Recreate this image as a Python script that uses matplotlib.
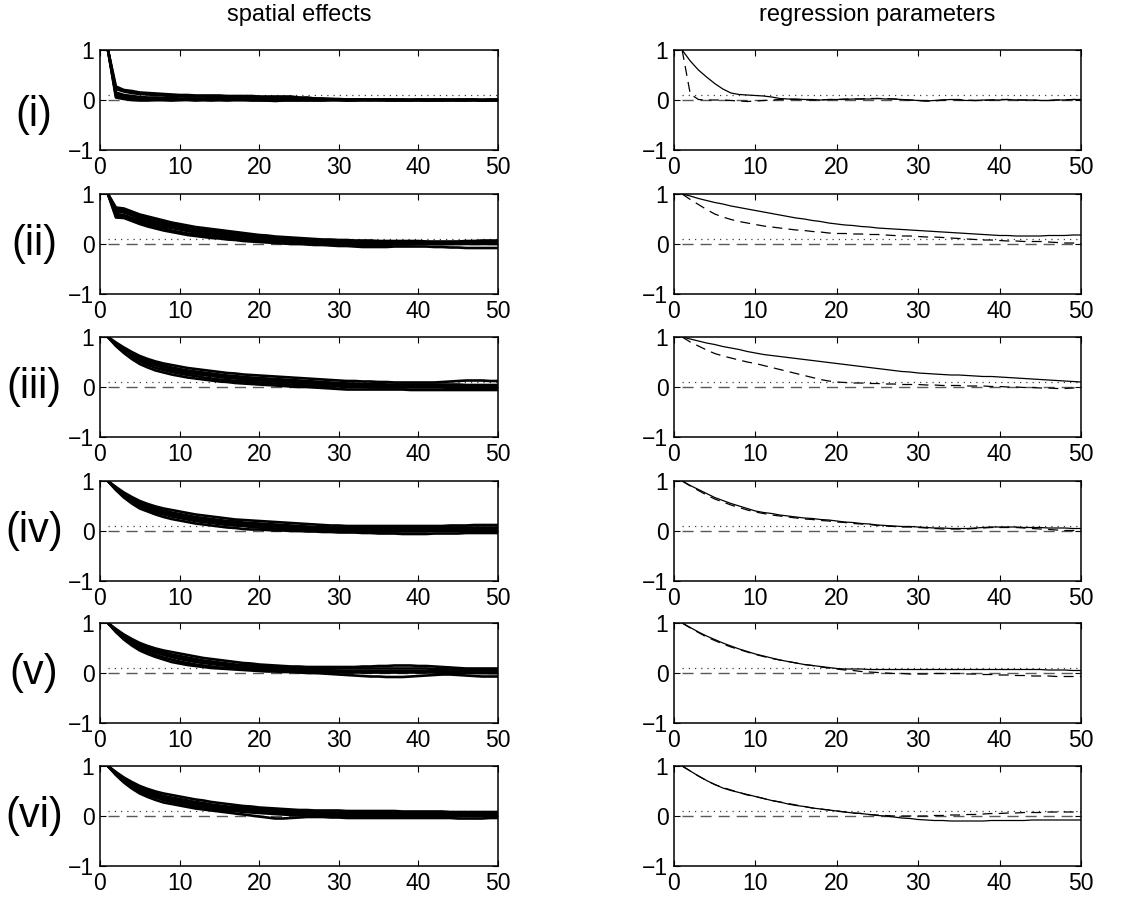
import matplotlib
matplotlib.use("Agg")
import matplotlib.pyplot as plt
import numpy as np

plt.rcParams['font.family'] = ['Liberation Sans', 'DejaVu Sans']

lags = list(range(1, 51))
row_labels = ["(i)", "(ii)", "(iii)", "(iv)", "(v)", "(vi)"]
col_titles = ["spatial effects", "regression parameters"]
xticks = [0, 10, 20, 30, 40, 50]
yticks = [-1, 0, 1]
ref_dotted = 0.1
ref_zero = 0.0

# ---------------- spatial effects (left column), several series per panel
spat_i = [
 [1.00,.27,.20,.18,.15,.14,.13,.12,.11,.10, .10,.09,.09,.09,.09,.08,.08,.08,.08,.07, .07,.07,.07,.07,.05,.04,.03,.03,.02,.02, .01,.01,.01,.00,.00,.01,.00,.00,.00,.00, -.01,.00,.00,.00,.00,.00,.00,.00,.00,.00],
 [1.00,.22,.17,.14,.12,.11,.10,.09,.08,.08, .07,.07,.07,.06,.06,.06,.06,.05,.05,.05, .04,.04,.04,.05,.04,.05,.03,.02,.02,.01, .01,.00,.00,.00,.01,.00,.00,.01,.00,.00, .00,.01,.00,.00,.01,.00,.00,.00,.01,.00],
 [1.00,.15,.10,.08,.06,.05,.05,.04,.04,.03, .03,.03,.03,.02,.02,.02,.02,.02,.01,.01, .01,.00,.01,.00,.00,-.01,.00,.00,.00,.00, -.01,.00,.00,.00,.00,.00,.00,.00,.00,.00, .00,.00,-.01,.00,.00,.00,.00,-.01,.00,.00],
 [1.00,.08,.04,.02,.01,.01,.00,.00,.00,.00, .01,.00,.00,-.01,.00,.00,.00,.00,.00,.00, -.01,.00,.00,.00,-.01,.00,.00,.00,.00,.00, .01,.00,.00,.00,.00,.00,.00,-.01,.00,.00, .00,.00,.00,.00,.00,.00,.00,.00,.00,.00],
 [1.00,.05,.02,.00,-.01,-.01,.00,.00,-.01,.00, .00,-.01,.00,.00,.00,-.01,.00,.00,-.01,-.01, -.01,-.02,-.01,-.01,.00,.00,-.01,-.01,.00,.00, -.01,-.01,.00,.00,.00,-.01,-.01,.00,-.01,.00, -.01,-.01,.00,.00,-.01,-.01,.00,-.01,-.01,-.01],
 [1.00,.12,.07,.05,.03,.03,.02,.02,.02,.02, .02,.01,.01,.01,.01,.01,.01,.01,.01,.01, .00,.00,.00,.01,.02,.03,.02,.01,.01,.00, .00,.01,.01,.01,.00,.01,.01,.00,.00,.01, .01,.00,.01,.00,.00,.01,.01,.00,.00,.01],
]
spat_ii = [
 [1.00,.73,.71,.65,.59,.55,.51,.47,.43,.40, .37,.34,.32,.30,.28,.26,.24,.22,.20,.18, .17,.15,.14,.13,.12,.11,.10,.09,.09,.08, .08,.07,.07,.07,.06,.06,.06,.06,.06,.06, .05,.05,.05,.05,.05,.06,.06,.07,.07,.07],
 [1.00,.69,.67,.61,.55,.51,.47,.43,.40,.37, .34,.31,.29,.27,.25,.23,.21,.19,.17,.15, .14,.12,.11,.10,.09,.08,.07,.06,.06,.05, .05,.04,.04,.04,.04,.03,.03,.04,.04,.04, .04,.03,.03,.03,.04,.04,.05,.05,.05,.05],
 [1.00,.65,.63,.57,.51,.47,.43,.39,.36,.33, .30,.27,.25,.23,.21,.19,.17,.15,.13,.12, .10,.09,.08,.07,.06,.05,.05,.04,.03,.03, .02,.02,.02,.02,.02,.02,.02,.02,.03,.03, .02,.02,.02,.02,.02,.03,.03,.03,.03,.03],
 [1.00,.60,.58,.52,.47,.43,.39,.35,.32,.29, .26,.23,.21,.19,.17,.15,.13,.11,.10,.08, .07,.06,.05,.04,.03,.03,.02,.01,.01,.00, .00,.00,.00,.00,.00,.01,.01,.01,.01,.01, .01,.00,.00,.00,.01,.01,.01,.01,.01,.01],
 [1.00,.53,.52,.46,.40,.35,.31,.27,.24,.21, .18,.16,.14,.12,.11,.09,.08,.06,.05,.04, .03,.02,.01,.00,.00,-.01,-.02,-.02,-.03,-.04, -.04,-.05,-.06,-.06,-.06,-.06,-.05,-.05,-.05,-.05, -.05,-.06,-.06,-.07,-.07,-.08,-.08,-.08,-.08,-.08],
 [1.00,.56,.55,.49,.43,.39,.35,.31,.27,.24, .21,.19,.17,.15,.13,.12,.10,.09,.07,.06, .05,.04,.03,.02,.01,.01,.00,.00,-.01,-.02, -.02,-.02,-.03,-.03,-.02,-.02,-.01,-.01,-.01,.00, .00,.00,.00,.00,.00,.00,.00,.00,.00,.00],
]
spat_iii = [
 [1.00,.89,.79,.70,.62,.56,.51,.47,.44,.41, .38,.36,.34,.32,.30,.28,.27,.25,.24,.23, .22,.21,.20,.19,.18,.17,.16,.15,.14,.13, .12,.12,.11,.11,.10,.10,.09,.09,.09,.09, .09,.09,.10,.11,.12,.13,.13,.13,.12,.12],
 [1.00,.87,.76,.67,.59,.52,.47,.43,.39,.36, .33,.31,.29,.27,.25,.23,.22,.20,.19,.18, .17,.16,.15,.14,.13,.12,.11,.10,.09,.08, .07,.07,.06,.06,.06,.05,.05,.05,.05,.05, .05,.05,.05,.05,.05,.04,.04,.04,.04,.04],
 [1.00,.85,.73,.63,.55,.48,.43,.38,.34,.31, .28,.26,.24,.22,.20,.18,.17,.15,.14,.13, .12,.11,.10,.09,.08,.07,.06,.05,.05,.04, .04,.03,.03,.03,.02,.02,.02,.02,.02,.02, .02,.01,.01,.01,.01,.01,.01,.01,.01,.01],
 [1.00,.84,.71,.60,.51,.44,.38,.34,.30,.27, .24,.22,.19,.17,.15,.14,.12,.11,.10,.09, .08,.07,.06,.05,.04,.03,.02,.02,.01,.01, .00,.00,.00,-.01,-.01,-.01,-.01,-.01,-.01,-.01, -.01,-.01,-.01,-.02,-.02,-.02,-.02,-.02,-.02,-.02],
 [1.00,.82,.68,.56,.46,.39,.33,.29,.25,.22, .19,.17,.15,.13,.11,.10,.08,.07,.06,.05, .04,.03,.02,.01,.00,.00,-.01,-.02,-.03,-.04, -.05,-.05,-.05,-.05,-.05,-.05,-.05,-.05,-.06,-.06, -.06,-.06,-.06,-.06,-.06,-.06,-.06,-.06,-.06,-.06],
 [1.00,.86,.74,.65,.57,.50,.45,.40,.36,.33, .30,.28,.26,.24,.22,.21,.19,.18,.16,.15, .14,.13,.12,.11,.10,.09,.08,.08,.07,.06, .06,.05,.05,.04,.04,.04,.03,.03,.03,.03, .03,.03,.03,.03,.02,.02,.02,.02,.02,.02],
]
spat_iv = [
 [1.00,.88,.77,.68,.60,.54,.49,.45,.42,.39, .36,.33,.31,.29,.27,.25,.23,.22,.21,.20, .19,.18,.17,.16,.15,.14,.13,.12,.11,.11, .10,.10,.10,.10,.10,.10,.10,.10,.10,.10, .10,.10,.10,.11,.11,.11,.12,.12,.12,.12],
 [1.00,.86,.74,.64,.56,.50,.45,.41,.37,.34, .31,.28,.26,.24,.22,.20,.19,.17,.16,.15, .14,.13,.12,.11,.10,.09,.08,.08,.07,.07, .06,.06,.06,.06,.06,.06,.06,.06,.06,.06, .06,.06,.07,.07,.07,.07,.07,.07,.07,.07],
 [1.00,.84,.71,.61,.53,.46,.41,.37,.33,.30, .27,.24,.22,.20,.18,.16,.15,.13,.12,.11, .10,.09,.08,.07,.06,.05,.05,.04,.04,.03, .03,.03,.02,.02,.02,.02,.02,.02,.02,.02, .02,.02,.02,.02,.02,.02,.02,.02,.02,.02],
 [1.00,.83,.69,.58,.49,.43,.37,.33,.29,.26, .23,.20,.18,.16,.14,.12,.11,.10,.08,.07, .06,.05,.04,.04,.03,.02,.02,.01,.01,.00, .00,.00,-.01,-.01,-.01,-.01,-.01,-.01,-.01,-.01, -.01,.00,.00,.00,.00,.00,.00,.00,.00,.00],
 [1.00,.82,.67,.55,.45,.39,.33,.28,.24,.21, .18,.15,.13,.11,.09,.07,.06,.04,.03,.03, .02,.01,.01,.00,.00,-.01,-.01,-.02,-.02,-.03, -.03,-.03,-.04,-.04,-.05,-.05,-.05,-.06,-.06,-.06, -.06,-.05,-.05,-.05,-.05,-.04,-.04,-.04,-.04,-.04],
 [1.00,.85,.72,.62,.54,.48,.43,.39,.35,.32, .29,.26,.24,.22,.20,.18,.17,.15,.14,.13, .12,.11,.10,.09,.08,.07,.07,.06,.05,.05, .04,.04,.04,.04,.04,.04,.04,.04,.04,.04, .04,.04,.04,.04,.04,.04,.04,.04,.04,.04],
]
spat_v = [
 [1.00,.88,.77,.68,.60,.54,.49,.45,.42,.39, .36,.33,.30,.28,.26,.24,.22,.20,.19,.17, .16,.15,.14,.13,.13,.12,.12,.12,.12,.12, .12,.12,.13,.13,.14,.14,.15,.15,.15,.14, .14,.13,.12,.11,.10,.09,.09,.09,.09,.09],
 [1.00,.86,.74,.64,.56,.50,.45,.41,.37,.34, .31,.28,.25,.23,.21,.19,.17,.16,.15,.14, .13,.12,.11,.10,.10,.09,.09,.09,.09,.09, .09,.09,.09,.09,.09,.09,.09,.09,.09,.09, .09,.08,.08,.07,.07,.06,.06,.06,.06,.06],
 [1.00,.84,.71,.61,.53,.46,.41,.36,.32,.28, .25,.22,.20,.18,.16,.14,.13,.11,.10,.09, .08,.07,.07,.06,.06,.05,.05,.05,.05,.04, .04,.04,.04,.04,.04,.04,.04,.04,.04,.04, .04,.04,.04,.03,.03,.03,.02,.02,.02,.02],
 [1.00,.83,.69,.58,.49,.42,.36,.31,.27,.23, .20,.17,.15,.13,.11,.10,.09,.08,.07,.06, .05,.04,.04,.03,.03,.02,.02,.02,.01,.01, .01,.01,.01,.01,.01,.01,.01,.01,.01,.01, .01,.01,.00,.00,.00,.00,.00,.00,.00,.00],
 [1.00,.82,.67,.55,.45,.38,.32,.27,.22,.19, .16,.14,.12,.10,.09,.08,.07,.06,.05,.04, .03,.03,.02,.02,.01,.00,.00,-.01,-.02,-.03, -.04,-.05,-.06,-.07,-.07,-.08,-.08,-.08,-.07,-.06, -.05,-.04,-.03,-.03,-.04,-.05,-.06,-.07,-.07,-.07],
 [1.00,.85,.72,.62,.54,.47,.42,.38,.34,.31, .28,.25,.23,.21,.19,.17,.15,.14,.12,.11, .10,.09,.08,.08,.07,.07,.06,.06,.05,.04, .03,.03,.02,.02,.02,.02,.02,.02,.03,.03, .03,.03,.03,.02,.02,.01,.01,.00,.00,.00],
]
spat_vi = [
 [1.00,.88,.77,.68,.60,.54,.49,.45,.42,.39, .36,.33,.31,.28,.26,.24,.22,.20,.19,.17, .16,.15,.14,.13,.12,.12,.11,.11,.11,.11, .10,.10,.10,.10,.10,.10,.10,.09,.09,.09, .09,.09,.09,.08,.08,.08,.08,.08,.08,.08],
 [1.00,.86,.74,.64,.56,.50,.45,.40,.37,.34, .31,.28,.26,.23,.21,.19,.18,.16,.15,.14, .13,.12,.11,.10,.09,.08,.08,.07,.07,.07, .07,.06,.06,.06,.06,.06,.06,.06,.06,.06, .06,.06,.06,.06,.06,.06,.06,.06,.06,.06],
 [1.00,.84,.71,.61,.53,.46,.41,.36,.32,.29, .26,.23,.21,.19,.17,.15,.14,.12,.11,.10, .09,.08,.07,.06,.05,.05,.04,.04,.04,.03, .03,.03,.03,.03,.03,.03,.03,.03,.03,.03, .03,.03,.03,.03,.03,.03,.03,.03,.03,.03],
 [1.00,.83,.69,.58,.49,.42,.37,.32,.28,.25, .22,.19,.17,.15,.13,.11,.10,.08,.07,.06, .05,.04,.03,.02,.02,.01,.01,.00,.00,.00, .00,.00,.00,.00,.00,.00,.00,.00,.00,.00, .00,.00,.00,.00,.00,.00,.00,.00,.00,.00],
 [1.00,.82,.67,.55,.45,.38,.32,.27,.24,.21, .18,.15,.13,.11,.09,.07,.05,.03,.01,-.01, -.03,-.05,-.05,-.04,-.03,-.02,-.02,-.02,-.03,-.03, -.04,-.04,-.04,-.04,-.04,-.04,-.04,-.04,-.04,-.04, -.04,-.04,-.04,-.04,-.05,-.05,-.05,-.05,-.04,-.04],
 [1.00,.85,.72,.62,.54,.47,.42,.38,.34,.31, .28,.25,.22,.20,.18,.16,.15,.13,.12,.11, .10,.09,.08,.07,.06,.06,.05,.05,.05,.05, .05,.05,.05,.04,.04,.04,.04,.04,.04,.04, .04,.04,.04,.04,.04,.04,.04,.04,.04,.04],
]

# ---------------- regression parameters (right column): solid and dashed series
reg_i_solid = [1.00,.78,.60,.46,.33,.22,.14,.11,.10,.09, .08,.06,.03,.02,.02,.01,.01,.00,.01,.01, .01,.02,.02,.02,.03,.02,.02,.01,.00,-.01, -.02,-.01,.00,.01,.00,-.01,-.01,.00,.00,.00, .01,.00,.00,.00,-.01,-.01,.00,.00,.01,.01]
reg_i_dash = [1.00,.12,.01,.00,.00,.00,-.01,-.02,-.03,-.02, -.01,.00,.01,.01,.01,.00,.00,.00,.01,.01, .02,.02,.02,.03,.03,.03,.02,.01,.00,-.01, -.02,-.02,.00,.01,.01,.00,-.01,-.01,.00,.01, .01,.00,.00,.00,-.01,-.01,.00,.00,.01,.01]
reg_ii_solid = [1.00,.96,.91,.87,.83,.80,.76,.73,.70,.67, .64,.61,.58,.55,.52,.50,.47,.45,.42,.40, .38,.37,.35,.34,.32,.31,.30,.29,.28,.27, .26,.25,.24,.23,.22,.21,.20,.19,.18,.17, .17,.16,.16,.16,.16,.17,.17,.17,.18,.18]
reg_ii_dash = [1.00,.89,.79,.69,.60,.54,.49,.45,.42,.39, .36,.34,.32,.30,.28,.27,.25,.24,.22,.21, .21,.20,.20,.19,.19,.18,.17,.16,.16,.15, .14,.14,.13,.12,.11,.10,.09,.08,.08,.07, .06,.06,.05,.05,.05,.04,.03,.02,.02,.01]
reg_iii_solid = [1.00,.96,.92,.88,.85,.81,.78,.75,.71,.68, .65,.63,.61,.59,.57,.55,.53,.51,.49,.47, .45,.43,.41,.39,.37,.35,.33,.31,.30,.28, .27,.26,.25,.24,.24,.23,.22,.21,.21,.20, .19,.18,.17,.16,.15,.14,.13,.12,.11,.10]
reg_iii_dash = [1.00,.90,.82,.74,.67,.62,.58,.54,.50,.47, .43,.39,.35,.31,.27,.23,.19,.15,.12,.10, .09,.08,.08,.07,.07,.06,.06,.05,.05,.05, .04,.04,.03,.03,.03,.02,.02,.02,.01,.01, .00,.00,-.01,-.01,-.02,-.02,-.03,-.03,-.02,.00]
reg_iv_solid = [1.00,.91,.83,.75,.67,.61,.55,.50,.45,.40, .37,.35,.32,.30,.28,.26,.25,.23,.22,.20, .18,.17,.15,.14,.12,.11,.10,.09,.09,.08, .07,.06,.06,.05,.05,.05,.06,.07,.08,.08, .08,.08,.07,.07,.07,.06,.06,.06,.05,.05]
reg_iv_dash = [1.00,.90,.81,.72,.64,.58,.52,.47,.42,.38, .35,.32,.30,.28,.26,.24,.23,.21,.20,.18, .17,.15,.14,.13,.11,.10,.09,.08,.08,.07, .06,.05,.04,.04,.04,.04,.05,.06,.07,.07, .07,.07,.06,.05,.04,.03,.02,.01,.01,.01]
reg_v_solid = [1.00,.91,.82,.74,.67,.60,.54,.48,.43,.38, .34,.30,.26,.23,.20,.17,.15,.13,.11,.09, .08,.08,.08,.07,.07,.07,.07,.07,.07,.07, .07,.07,.07,.07,.07,.07,.07,.07,.07,.07, .07,.07,.07,.07,.07,.06,.06,.06,.05,.05]
reg_v_dash = [1.00,.90,.81,.72,.65,.58,.52,.47,.42,.37, .33,.29,.26,.23,.20,.17,.15,.12,.10,.08, .06,.05,.03,.02,.01,.00,-.01,-.01,-.02,-.02, -.02,-.01,-.01,-.01,-.01,-.02,-.02,-.03,-.03,-.04, -.04,-.05,-.05,-.06,-.06,-.06,-.07,-.07,-.07,-.07]
reg_vi_solid = [1.00,.90,.80,.71,.63,.56,.51,.47,.43,.39, .35,.31,.28,.24,.21,.19,.16,.14,.12,.10, .08,.06,.05,.03,.01,.00,-.02,-.04,-.05,-.07, -.08,-.09,-.09,-.10,-.10,-.10,-.10,-.10,-.09,-.09, -.09,-.09,-.09,-.08,-.08,-.08,-.08,-.08,-.08,-.08]
reg_vi_dash = [1.00,.90,.80,.71,.63,.57,.52,.47,.42,.39, .35,.31,.28,.25,.22,.19,.16,.14,.12,.10, .08,.06,.05,.03,.02,.01,.00,.00,.00,.00, .00,.01,.01,.02,.02,.03,.03,.04,.05,.05, .06,.06,.07,.07,.07,.08,.08,.08,.08,.08]

spatial = [spat_i, spat_ii, spat_iii, spat_iv, spat_v, spat_vi]
regression = [(reg_i_solid, reg_i_dash), (reg_ii_solid, reg_ii_dash),
              (reg_iii_solid, reg_iii_dash), (reg_iv_solid, reg_iv_dash),
              (reg_v_solid, reg_v_dash), (reg_vi_solid, reg_vi_dash)]

W, H = 1128, 899
fig = plt.figure(figsize=(W / 100, H / 100), dpi=100)

col_x = [(100, 498), (674, 1081)]
row_tops = [50, 194, 337, 481, 623, 766]
row_h = 100
label_dy = [15, 0, 0, 0, 0, 0]

DASH = (0, (8, 5))
DOT = (0, (1, 4))


def style(ax):
    ax.set_xlim(0, 50)
    ax.set_ylim(-1, 1)
    ax.set_xticks(xticks)
    ax.set_yticks(yticks)
    ax.tick_params(direction='in', length=4, width=0.8, labelsize=16.5,
                   top=True, right=True, pad=4, colors='black')
    for s in ax.spines.values():
        s.set_linewidth(1.1)


for r in range(6):
    top = row_tops[r]
    for c in range(2):
        x0, x1 = col_x[c]
        ax = fig.add_axes([x0 / W, 1 - (top + row_h) / H, (x1 - x0) / W, row_h / H])
        style(ax)
        ax.plot([lags[0], lags[-1]], [ref_dotted, ref_dotted], color='0.25',
                linestyle=DOT, linewidth=0.9)
        ax.plot([lags[0], lags[-1]], [ref_zero, ref_zero], color='0.35',
                linestyle=DASH, linewidth=1.0)
        if c == 0:
            for series in spatial[r]:
                ax.plot(lags, series, color='black', linewidth=1.9)
        else:
            solid, dash = regression[r]
            ax.plot(lags, solid, color='black', linewidth=0.9)
            ax.plot(lags, dash, color='black', linewidth=0.9, linestyle=DASH)
    yc = top + row_h / 2 + label_dy[r]
    fig.text(34 / W, 1 - yc / H, row_labels[r], fontsize=30, ha='center', va='center')

fig.text(299 / W, 1 - 15 / H, col_titles[0], fontsize=17, ha='center', va='center')
fig.text(877 / W, 1 - 15 / H, col_titles[1], fontsize=17, ha='center', va='center')

fig.savefig('out.png', dpi=100, facecolor='white')
